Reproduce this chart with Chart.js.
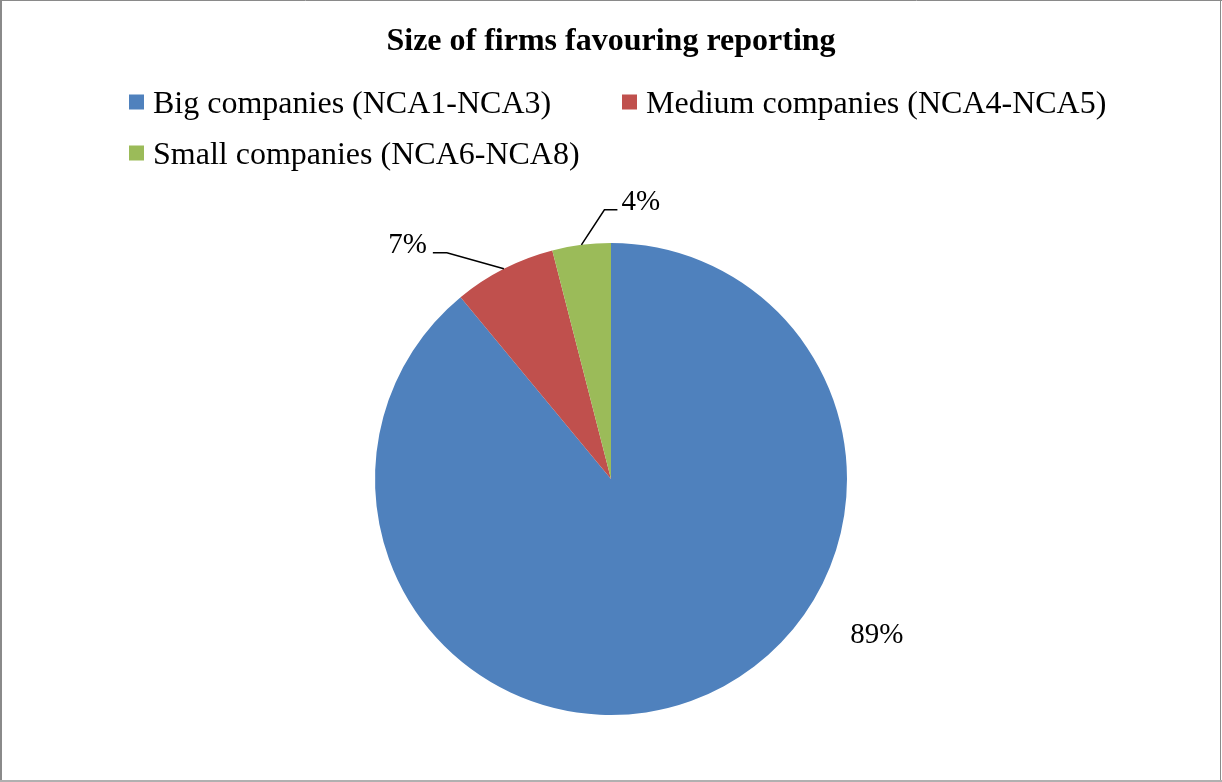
<!DOCTYPE html>
<html>
<head>
<meta charset="utf-8">
<title>Size of firms favouring reporting</title>
<script src="https://cdn.jsdelivr.net/npm/chart.js@4"></script>
<style>
    html, body { margin: 0; padding: 0; background: #fff; }
    #wrap { width: 1222px; height: 782px; position: relative; }
</style>
</head>
<body>
<div id="wrap"><canvas id="pieChart"></canvas></div>
<script>
const chartTitle = 'Size of firms favouring reporting';
const categories = ['Big companies (NCA1-NCA3)', 'Medium companies (NCA4-NCA5)', 'Small companies (NCA6-NCA8)'];
const shares = [89, 7, 4];
const sliceColors = ['#4F81BD', '#C0504D', '#9BBB59'];

const serif = '"Liberation Serif", "Times New Roman", serif';

// white background + thin frame around the whole chart
const framePlugin = {
    id: 'frame',
    beforeDraw(chart) {
        const ctx = chart.ctx;
        ctx.save();
        ctx.fillStyle = '#fff';
        ctx.fillRect(0, 0, chart.width, chart.height);
        ctx.restore();
    },
    afterDraw(chart) {
        const ctx = chart.ctx;
        const w = chart.width, h = chart.height;
        ctx.save();
        ctx.strokeStyle = '#8a8a8a';
        ctx.lineWidth = 1;
        ctx.beginPath();
        ctx.moveTo(0, 0.5); ctx.lineTo(w, 0.5);
        ctx.moveTo(w - 1.5, 0); ctx.lineTo(w - 1.5, h);
        ctx.stroke();
        ctx.lineWidth = 2;
        ctx.beginPath();
        ctx.moveTo(1, 0); ctx.lineTo(1, h);
        ctx.stroke();
        ctx.strokeStyle = '#b0b0b0';
        ctx.beginPath();
        ctx.moveTo(0, h - 1); ctx.lineTo(w, h - 1);
        ctx.stroke();
        ctx.restore();
    }
};

// legend laid out in two rows, boxes + labels
const boxLegendPlugin = {
    id: 'boxLegend',
    afterDraw(chart, args, opts) {
        const ctx = chart.ctx;
        const ds = chart.data.datasets[0];
        ctx.save();
        ctx.font = opts.font;
        ctx.textBaseline = 'alphabetic';
        ctx.textAlign = 'left';
        chart.data.labels.forEach((label, i) => {
            const pos = opts.slots[i];
            const s = opts.boxSize;
            ctx.fillStyle = ds.backgroundColor[i];
            ctx.fillRect(pos.x, pos.y - s / 2, s, s);
            ctx.fillStyle = '#000';
            ctx.fillText(label, pos.x + s + opts.gap, pos.y + opts.baselineDrop);
        });
        ctx.restore();
    }
};

// percentage labels, some with leader lines out to the slice edge
const sliceLabelPlugin = {
    id: 'sliceLabels',
    afterDatasetsDraw(chart, args, opts) {
        const ctx = chart.ctx;
        const meta = chart.getDatasetMeta(0);
        const values = chart.data.datasets[0].data;
        ctx.save();
        ctx.font = opts.font;
        ctx.fillStyle = '#000';
        ctx.strokeStyle = '#000';
        ctx.lineWidth = 1.5;
        ctx.textBaseline = 'alphabetic';
        meta.data.forEach((arc, i) => {
            const p = arc.getProps(['x', 'y', 'startAngle', 'endAngle', 'outerRadius'], true);
            const mid = (p.startAngle + p.endAngle) / 2;
            const ex = p.x + Math.cos(mid) * p.outerRadius;
            const ey = p.y + Math.sin(mid) * p.outerRadius;
            const place = opts.placement[i];
            if (place.elbow) {
                ctx.beginPath();
                ctx.moveTo(ex, ey);
                ctx.lineTo(ex + place.elbow[0], ey + place.elbow[1]);
                ctx.lineTo(ex + place.end[0], ey + place.end[1]);
                ctx.stroke();
            }
            ctx.textAlign = place.align;
            ctx.fillText(values[i] + '%', ex + place.text[0], ey + place.text[1]);
        });
        ctx.restore();
    }
};

new Chart(document.getElementById('pieChart'), {
    type: 'pie',
    data: {
        labels: categories,
        datasets: [{
            data: shares,
            backgroundColor: sliceColors,
            borderWidth: 0,
            hoverOffset: 0
        }]
    },
    plugins: [framePlugin, boxLegendPlugin, sliceLabelPlugin],
    options: {
        responsive: true,
        maintainAspectRatio: false,
        animation: false,
        events: [],
        layout: { padding: { top: 0, bottom: 67, left: 0, right: 0 } },
        plugins: {
            legend: { display: false },
            tooltip: { enabled: false },
            title: {
                display: true,
                text: chartTitle,
                color: '#000',
                font: { family: serif, size: 32, weight: 'bold', lineHeight: 1.2 },
                padding: { top: 23, bottom: 181.6 }
            },
            boxLegend: {
                font: '32px ' + serif,
                boxSize: 15,
                gap: 9,
                baselineDrop: 11,
                slots: [{ x: 129, y: 102 }, { x: 622, y: 102 }, { x: 129, y: 153 }]
            },
            sliceLabels: {
                font: '29px ' + serif,
                placement: [
                    { text: [186, -58], align: 'center' },
                    { elbow: [-57, -16], end: [-71, -16], text: [-77, -16], align: 'right' },
                    { elbow: [23, -35], end: [36, -35], text: [40, -35], align: 'left' }
                ]
            }
        }
    }
});
</script>
</body>
</html>
